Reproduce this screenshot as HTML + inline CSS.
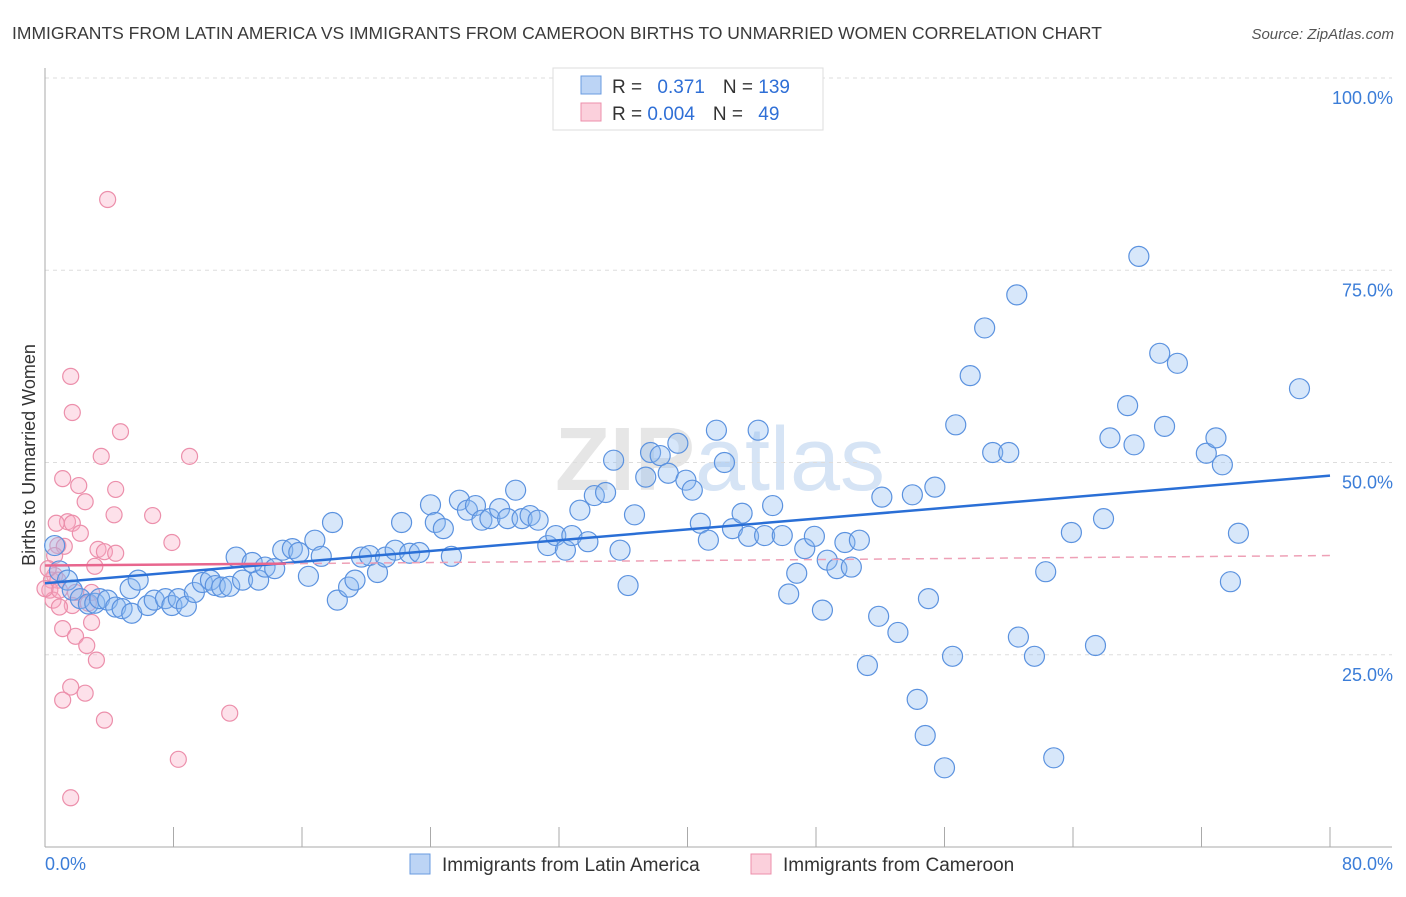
<!DOCTYPE html>
<html><head><meta charset="utf-8"><style>
body{margin:0;background:#fff;font-family:"Liberation Sans",sans-serif}
svg text{font-family:"Liberation Sans",sans-serif}
</style></head><body>
<svg id="chart" width="1406" height="892" xmlns="http://www.w3.org/2000/svg">
<text x="12" y="39" font-size="17.5" fill="#3a3a3a">IMMIGRANTS FROM LATIN AMERICA VS IMMIGRANTS FROM CAMEROON BIRTHS TO UNMARRIED WOMEN CORRELATION CHART</text>
<text x="1394" y="39" font-size="15" fill="#555" font-style="italic" text-anchor="end">Source: ZipAtlas.com</text>
<text x="720" y="490" font-size="90" fill="#e6e6e6" text-anchor="middle" font-family="Liberation Serif" font-weight="bold">ZIP<tspan fill="#d6e4f5" font-family="Liberation Sans" font-weight="normal">atlas</tspan></text>
<g id="grid"></g>
<g id="axes"></g>
<g id="pts"></g>
<g id="trends"></g>
<text x="35" y="455" font-size="18" fill="#333" text-anchor="middle" transform="rotate(-90 35 455)">Births to Unmarried Women</text>
<g>
<rect x="553" y="68" width="270" height="62" fill="#fff" stroke="#ddd"/>
<rect x="581" y="76" width="20" height="18" fill="#bcd4f5" stroke="#6a9be0"/>
<rect x="581" y="103" width="20" height="18" fill="#fbd0dc" stroke="#ec8fab"/>
<text x="612" y="93" font-size="19" fill="#333">R = <tspan fill="#2f6fd6" dx="10">0.371</tspan><tspan dx="18" fill="#333">N = </tspan><tspan fill="#2f6fd6">139</tspan></text>
<text x="612" y="120" font-size="19" fill="#333">R = <tspan fill="#2f6fd6">0.004</tspan><tspan dx="18" fill="#333">N = </tspan><tspan fill="#2f6fd6" dx="10">49</tspan></text>
</g>
<g>
<rect x="410" y="854" width="20" height="20" fill="#bcd4f5" stroke="#6a9be0"/>
<text x="442" y="871" font-size="19" fill="#333">Immigrants from Latin America</text>
<rect x="751" y="854" width="20" height="20" fill="#fbd0dc" stroke="#ec8fab"/>
<text x="783" y="871" font-size="19" fill="#333">Immigrants from Cameroon</text>
</g>
</svg>
<script>
const yTicks=[25,50,75,100];
const yTickLabels=["25.0%","50.0%","75.0%","100.0%"];
const xTicks=[0,8,16,24,32,40,48,56,64,72,80];
const xEndLabels=["0.0%","80.0%"];
const blueX=[0.6,0.9,1.4,1.7,2.2,2.7,3.1,3.4,3.9,4.4,4.8,5.3,5.8,5.4,6.4,6.8,7.5,7.9,8.3,8.8,9.3,9.8,10.3,10.6,11.0,11.5,11.9,12.3,12.9,13.3,13.7,14.3,14.8,15.4,15.8,16.4,16.8,17.2,17.9,18.2,18.9,19.3,19.7,20.2,20.7,21.2,21.8,22.2,22.7,23.3,24.0,24.3,24.8,25.3,25.8,26.3,26.8,27.2,27.7,28.3,28.8,29.3,29.7,30.2,30.7,31.3,31.8,32.4,32.8,33.3,33.8,34.2,34.9,35.4,35.8,36.3,36.7,37.4,37.7,38.3,38.8,39.4,39.9,40.3,40.8,41.3,41.8,42.3,42.8,43.4,43.8,44.4,44.8,45.3,45.9,46.3,46.8,47.3,47.9,48.4,48.7,49.3,49.8,50.2,50.7,51.2,51.9,52.1,53.1,54.0,54.3,54.8,55.0,55.4,56.0,56.5,56.7,57.6,58.5,59.0,60.0,60.5,60.6,61.6,62.3,62.8,63.9,65.4,65.9,66.3,67.4,67.8,68.1,69.4,69.7,70.5,72.3,72.9,73.3,73.8,74.3,78.1];
const blueY=[39.2,35.9,34.7,33.4,32.3,31.6,31.7,32.3,32.1,31.2,31.0,33.6,34.7,30.4,31.4,32.1,32.3,31.4,32.3,31.3,33.1,34.4,34.7,34.0,33.8,33.9,37.7,34.7,37.0,34.7,36.4,36.2,38.6,38.8,38.3,35.2,39.9,37.8,42.2,32.1,33.8,34.7,37.7,37.9,35.7,37.7,38.6,42.2,38.2,38.3,44.5,42.2,41.4,37.8,45.1,43.8,44.4,42.5,42.7,44.0,42.7,46.4,42.7,43.1,42.5,39.2,40.5,38.6,40.5,43.8,39.7,45.7,46.1,50.3,38.6,34.0,43.2,48.1,51.3,50.9,48.6,52.5,47.7,46.4,42.1,39.9,54.2,50.0,41.4,43.4,40.4,54.2,40.5,44.4,40.5,32.9,35.6,38.8,40.4,30.8,37.3,36.2,39.6,36.4,39.9,23.6,30.0,45.5,27.9,45.8,19.2,14.5,32.3,46.8,10.3,24.8,54.9,61.3,67.5,51.3,51.3,71.8,27.3,24.8,35.8,11.6,40.9,26.2,42.7,53.2,57.4,52.3,76.8,64.2,54.7,62.9,51.2,53.2,49.7,34.5,40.8,59.6];
const pinkX=[1.6,1.7,4.7,3.5,1.1,2.1,2.5,4.4,4.3,6.7,1.4,0.7,1.7,2.2,0.8,1.2,7.9,3.3,3.7,4.4,0.6,3.1,0.6,0.4,0.8,0.3,0.5,0.9,1.9,2.9,1.7,0.9,2.7,2.9,1.1,1.9,2.6,3.2,1.6,2.5,1.1,3.7,11.5,8.3,1.6,3.9,9.0,0.2,0.0];
const pinkY=[61.2,56.5,54.0,50.8,47.9,47.0,44.9,46.5,43.2,43.1,42.3,42.1,42.1,40.8,39.2,39.1,39.6,38.7,38.4,38.2,37.9,36.5,35.3,34.7,34.7,33.4,32.1,33.4,33.1,33.1,31.4,31.2,31.7,29.2,28.4,27.4,26.2,24.3,20.8,20.0,19.1,16.5,17.4,11.4,6.4,84.2,50.8,36.2,33.6];
const blueTrend=[34.3,48.3];
const pinkTrend=[36.6,37.9];
const NS="http://www.w3.org/2000/svg";
const X0=45,X1=1330,Y0=847,Y100=78;
function sx(v){return X0+(X1-X0)*v/80;}
function sy(v){return Y0-(Y0-Y100)*v/100;}
function mk(tag,attrs,parent){const e=document.createElementNS(NS,tag);for(const k in attrs)e.setAttribute(k,attrs[k]);parent.appendChild(e);return e;}
const grid=document.getElementById('grid'),axes=document.getElementById('axes'),pts=document.getElementById('pts'),tr=document.getElementById('trends');
yTicks.forEach((t,i)=>{
 const l=mk('line',{x1:X0,x2:1392,y1:sy(t),y2:sy(t),stroke:'#ddd','stroke-dasharray':'4,4'},grid);
 
 
 const tx=mk('text',{x:1393,y:sy(t)+26,'font-size':18,fill:'#3b7dd8','text-anchor':'end'},axes);
 tx.textContent=yTickLabels[i];
 
 
});
const ax=mk('line',{x1:X0,x2:X0,y1:68,y2:Y0,stroke:'#aaa'},axes);


const bx=mk('line',{x1:X0,x2:1392,y1:Y0,y2:Y0,stroke:'#aaa'},axes);


xTicks.forEach(t=>{
 const l=mk('line',{x1:sx(t),x2:sx(t),y1:Y0-20,y2:Y0,stroke:'#aaa'},axes);
 
 
});
const xl0=mk('text',{x:45,y:870,'font-size':18,fill:'#3b7dd8'},axes);xl0.textContent=xEndLabels[0];


const xl1=mk('text',{x:1393,y:870,'font-size':18,fill:'#3b7dd8','text-anchor':'end'},axes);xl1.textContent=xEndLabels[1];


pinkX.forEach((x,i)=>{
 const c=mk('circle',{cx:sx(x),cy:sy(pinkY[i]),r:8,fill:'rgba(248,170,195,0.35)',stroke:'#ec8fab','stroke-width':1.2},pts);
 
 
});
blueX.forEach((x,i)=>{
 const c=mk('circle',{cx:sx(x),cy:sy(blueY[i]),r:10,fill:'rgba(140,185,240,0.35)',stroke:'#5b92df','stroke-width':1.2},pts);
 
 
});
const bl=mk('line',{x1:sx(0),y1:sy(blueTrend[0]),x2:sx(80),y2:sy(blueTrend[1]),stroke:'#2a6fd6','stroke-width':2.5},tr);


const pMid=pinkTrend[0]+(pinkTrend[1]-pinkTrend[0])*15/80;
const ps=mk('line',{x1:sx(0),y1:sy(pinkTrend[0]),x2:sx(15),y2:sy(pMid),stroke:'#e8668e','stroke-width':2.5},tr);


const pd=mk('line',{x1:sx(15),y1:sy(pMid),x2:sx(80),y2:sy(pinkTrend[1]),stroke:'#eea0b6','stroke-width':1.5,'stroke-dasharray':'8,6'},tr);


</script>
</body></html>
